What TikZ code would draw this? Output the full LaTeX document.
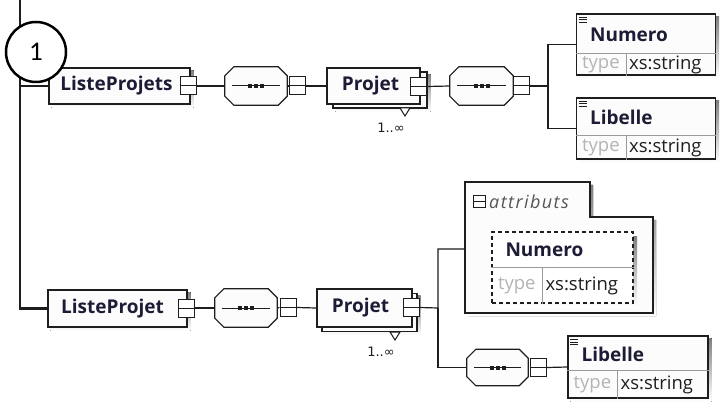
\documentclass[tikz,border=0pt]{standalone}
\usepackage{fontspec}
\setmainfont{Open Sans}
\newfontfamily\numfont{Carlito}
\newfontfamily\symfont{DejaVu Sans}
\usetikzlibrary{calc}
\pgfdeclarelayer{bg}
\pgfsetlayers{bg,main}
\definecolor{ln}{HTML}{1E1E1E}
\definecolor{nametxt}{HTML}{1C1C36}
\definecolor{typegray}{HTML}{B4B4B4}
\definecolor{divgray}{HTML}{9A9A9A}
\definecolor{boxfill}{HTML}{FCFCFC}
\definecolor{shade}{HTML}{C4C4C4}
\newcommand\octopath[1]{($(#1.north west)+(9,0)$) -- ($(#1.north east)+(-9,0)$) -- ($(#1.north east)+(0,9)$) -- ($(#1.south east)+(0,-9)$) -- ($(#1.south east)+(-9,0)$) -- ($(#1.south west)+(9,0)$) -- ($(#1.south west)+(0,-9)$) -- ($(#1.north west)+(0,9)$) -- cycle}
\newcommand\shadowof[2]{\begin{pgfonlayer}{bg}\fill[shade] ($(#1.north west)+(#2,#2)$) rectangle ($(#1.south east)+(#2,#2)$);\end{pgfonlayer}}
\newcommand\seqshape[1]{%
  \fill[shade,shift={(3,3)}] \octopath{#1};
  \draw[ln,line width=1.2pt,fill=boxfill] \octopath{#1};
  \draw[ln,line width=1pt] ($(#1.west)+(7,0)$) -- ($(#1.east)+(-7,0)$);
  \foreach \d in {-6,0,6} \fill[ln] ($(#1.center)+(\d-2,-2)$) rectangle ++(4,4);}
\newcommand\elemparts[4]{% node, name, top part height, type col width
  \draw[divgray,line width=.8pt] ($(#1.north west)+(0,#3)$) -- ($(#1.north east)+(0,#3)$);
  \draw[divgray,line width=.8pt] ($(#1.north west)+(#4,#3)$) -- ($(#1.south west)+(#4,0)$);
  \node[nametext,anchor=west] at ($(#1.north west)+(14,#3/2+1)$) {#2};
  \path let \p1=($(#1.north west)+(#4,#3)$), \p2=(#1.south west), \p3=(#1.south east) in
    node[typetext] at ($(\x2,\y1)!.5!(\x1,\y2)$) {type}
    node[valtext,anchor=west] at ($(\x1,\y1)!.5!(\x1,\y2)+(3,0)$) {xs:string};}
\newcommand\elemicon[1]{%
  \foreach \k in {0,2.5,5} \draw[ln,line width=.8pt] ($(#1.north west)+(3,4+\k)$) -- ++(8,0);}
\begin{document}
\begin{tikzpicture}[x=1pt,y=-1pt,
  conn/.style={ln,line width=1.2pt},
  box/.style={rectangle,draw=ln,line width=1.2pt,fill=boxfill,inner sep=0pt,
    text=nametxt,font=\fontsize{19}{22}\selectfont\bfseries},
  backbox/.style={rectangle,draw=ln,line width=1.2pt,fill=boxfill,inner sep=0pt},
  btn/.style={rectangle,draw=ln,line width=1pt,fill=white,inner sep=0pt,
    minimum width=16pt,minimum height=18pt,
    path picture={\draw[ln,line width=1pt] (path picture bounding box.west) -- (path picture bounding box.east);}},
  seqbox/.style={rectangle,inner sep=0pt,minimum width=62pt,minimum height=38pt},
  elem/.style={rectangle,draw=ln,line width=1.2pt,fill=boxfill,inner sep=0pt},
  nametext/.style={inner sep=0pt,text=nametxt,font=\fontsize{19}{22}\selectfont\bfseries},
  typetext/.style={inner sep=0pt,text=typegray,font=\fontsize{18.5}{22}\selectfont},
  valtext/.style={inner sep=0pt,text=ln,font=\fontsize{18.5}{22}\selectfont},
  occ/.style={inner sep=0pt,text=ln,font=\symfont\fontsize{13}{15}\selectfont}]
\begin{pgfonlayer}{bg}
\fill[white] (0,0) rectangle (720,406);
\end{pgfonlayer}
\useasboundingbox (0,0) rectangle (720,406);

% ---------- main vertical line ----------
\coordinate (top) at (20,0);

% ---------- top row ----------
\node[box,minimum width=141pt,minimum height=36pt] (n1) at (119.5,86) {ListeProjets\hspace*{6pt}};
\shadowof{n1}{3}
\node[btn] (b1) at (188.5,86) {};
\node[seqbox] (o1) at (256,86) {};
\seqshape{o1}
\node[btn] (b2) at (297,86) {};
\node[backbox,minimum width=94pt,minimum height=36pt] (p1b) at (380,90) {};
\shadowof{p1b}{3}
\node[box,minimum width=93pt,minimum height=36pt] (p1) at (373.5,86) {Projet\hspace*{6pt}};
\node[btn] (b3) at (418.5,86.5) {};
\draw[ln,line width=1pt,fill=white] (400,108) -- (410,108) -- (405,116) -- cycle;
\node[occ] (m1) at (391,128) {1..∞};
\node[seqbox,minimum width=63pt] (o2) at (481.5,86) {};
\seqshape{o2}
\node[btn] (b4) at (521.5,86) {};
\coordinate (j1) at (548,86);

\node[elem,minimum width=139pt,minimum height=61pt] (num1) at (646,44.5) {};
\shadowof{num1}{3}
\elemparts{num1}{Numero}{40}{50}
\elemicon{num1}
\node[elem,minimum width=139pt,minimum height=61pt] (lib1) at (646,128.5) {};
\shadowof{lib1}{3}
\elemparts{lib1}{Libelle}{38}{50}
\elemicon{lib1}

% ---------- bottom row ----------
\node[box,minimum width=139pt,minimum height=37pt] (n2) at (117.5,308.5) {ListeProjet\hspace*{10pt}};
\shadowof{n2}{3}
\node[btn] (b5) at (186,308) {};
\node[seqbox] (o3) at (246,308) {};
\seqshape{o3}
\node[btn] (b6) at (288,307.5) {};
\node[backbox,minimum width=95pt,minimum height=38pt] (p2b) at (369.5,312.5) {};
\shadowof{p2b}{3}
\node[box,minimum width=95pt,minimum height=38pt] (p2) at (364.5,308) {Projet\hspace*{8pt}};
\node[btn] (b7) at (411,307.5) {};
\draw[ln,line width=1pt,fill=white] (390,332) -- (400,332) -- (395,340) -- cycle;
\node[occ] (m2) at (381,352) {1..∞};
\coordinate (j2) at (438,308);

% attributs group
\fill[shade,shift={(3,3)}] (465,182) -- (590,182) -- (590,217) -- (653,217) -- (653,313) -- (465,313) -- cycle;
\draw[ln,line width=1.2pt,fill=boxfill] (465,182) -- (590,182) -- (590,217) -- (653,217) -- (653,313) -- (465,313) -- cycle;
\coordinate (attrw) at (465,249);
\node[btn,minimum width=12pt,minimum height=12pt] (ba) at (479,202) {};
\node[inner sep=0pt,anchor=west,text=ln!75,font=\fontsize{18}{22}\selectfont\itshape\addfontfeature{LetterSpace=8}] (attrt) at (489,202) {attributs};
\fill[shade] (496,236) rectangle (637,307);
\node[rectangle,draw=ln,line width=1.4pt,dash pattern=on 4pt off 3pt,fill=white,inner sep=0pt,
  minimum width=141pt,minimum height=71pt] (num2) at (562.5,267.5) {};
\elemparts{num2}{Numero}{36}{51}

\node[seqbox,minimum width=61pt,minimum height=36pt] (o4) at (497.5,367.5) {};
\seqshape{o4}
\node[btn] (b8) at (538.5,367.5) {};
\node[elem,minimum width=140pt,minimum height=62pt] (lib2) at (638,367) {};
\shadowof{lib2}{3}
\elemparts{lib2}{Libelle}{35}{50}
\elemicon{lib2}

% ---------- connectors ----------
\draw[ln,line width=2.2pt] (top) |- (n2.west);
\draw[ln,line width=1.6pt] (n1.west -| top) -- (n1.west);
\draw[conn] (b1.east) -- (o1.west);
\draw[conn] (o1.east) -- (b2.west);
\draw[conn] (b2.east) -- (p1.west);
\draw[conn] (b3.east) -- (o2.west);
\draw[conn] (o2.east) -- (b4.west);
\draw[conn] (b4.east) -- (j1) |- (num1.west);
\draw[conn] (j1) |- (lib1.west);
\draw[conn] (b5.east) -- (o3.west);
\draw[conn] (o3.east) -- (b6.west);
\draw[conn] (b6.east) -- (p2.west);
\draw[conn] (b7.east) -- (j2) |- (attrw);
\draw[conn] (j2) |- (o4.west);
\draw[conn] (b8.east) -- (lib2.west);

% ---------- numbered circle ----------
\node[circle,draw=black,line width=2.5pt,fill=white,minimum size=60pt,inner sep=0pt,
  font=\numfont\fontsize{27}{29}\selectfont] (c1) at (36,52) {1};
\end{tikzpicture}
\end{document}
